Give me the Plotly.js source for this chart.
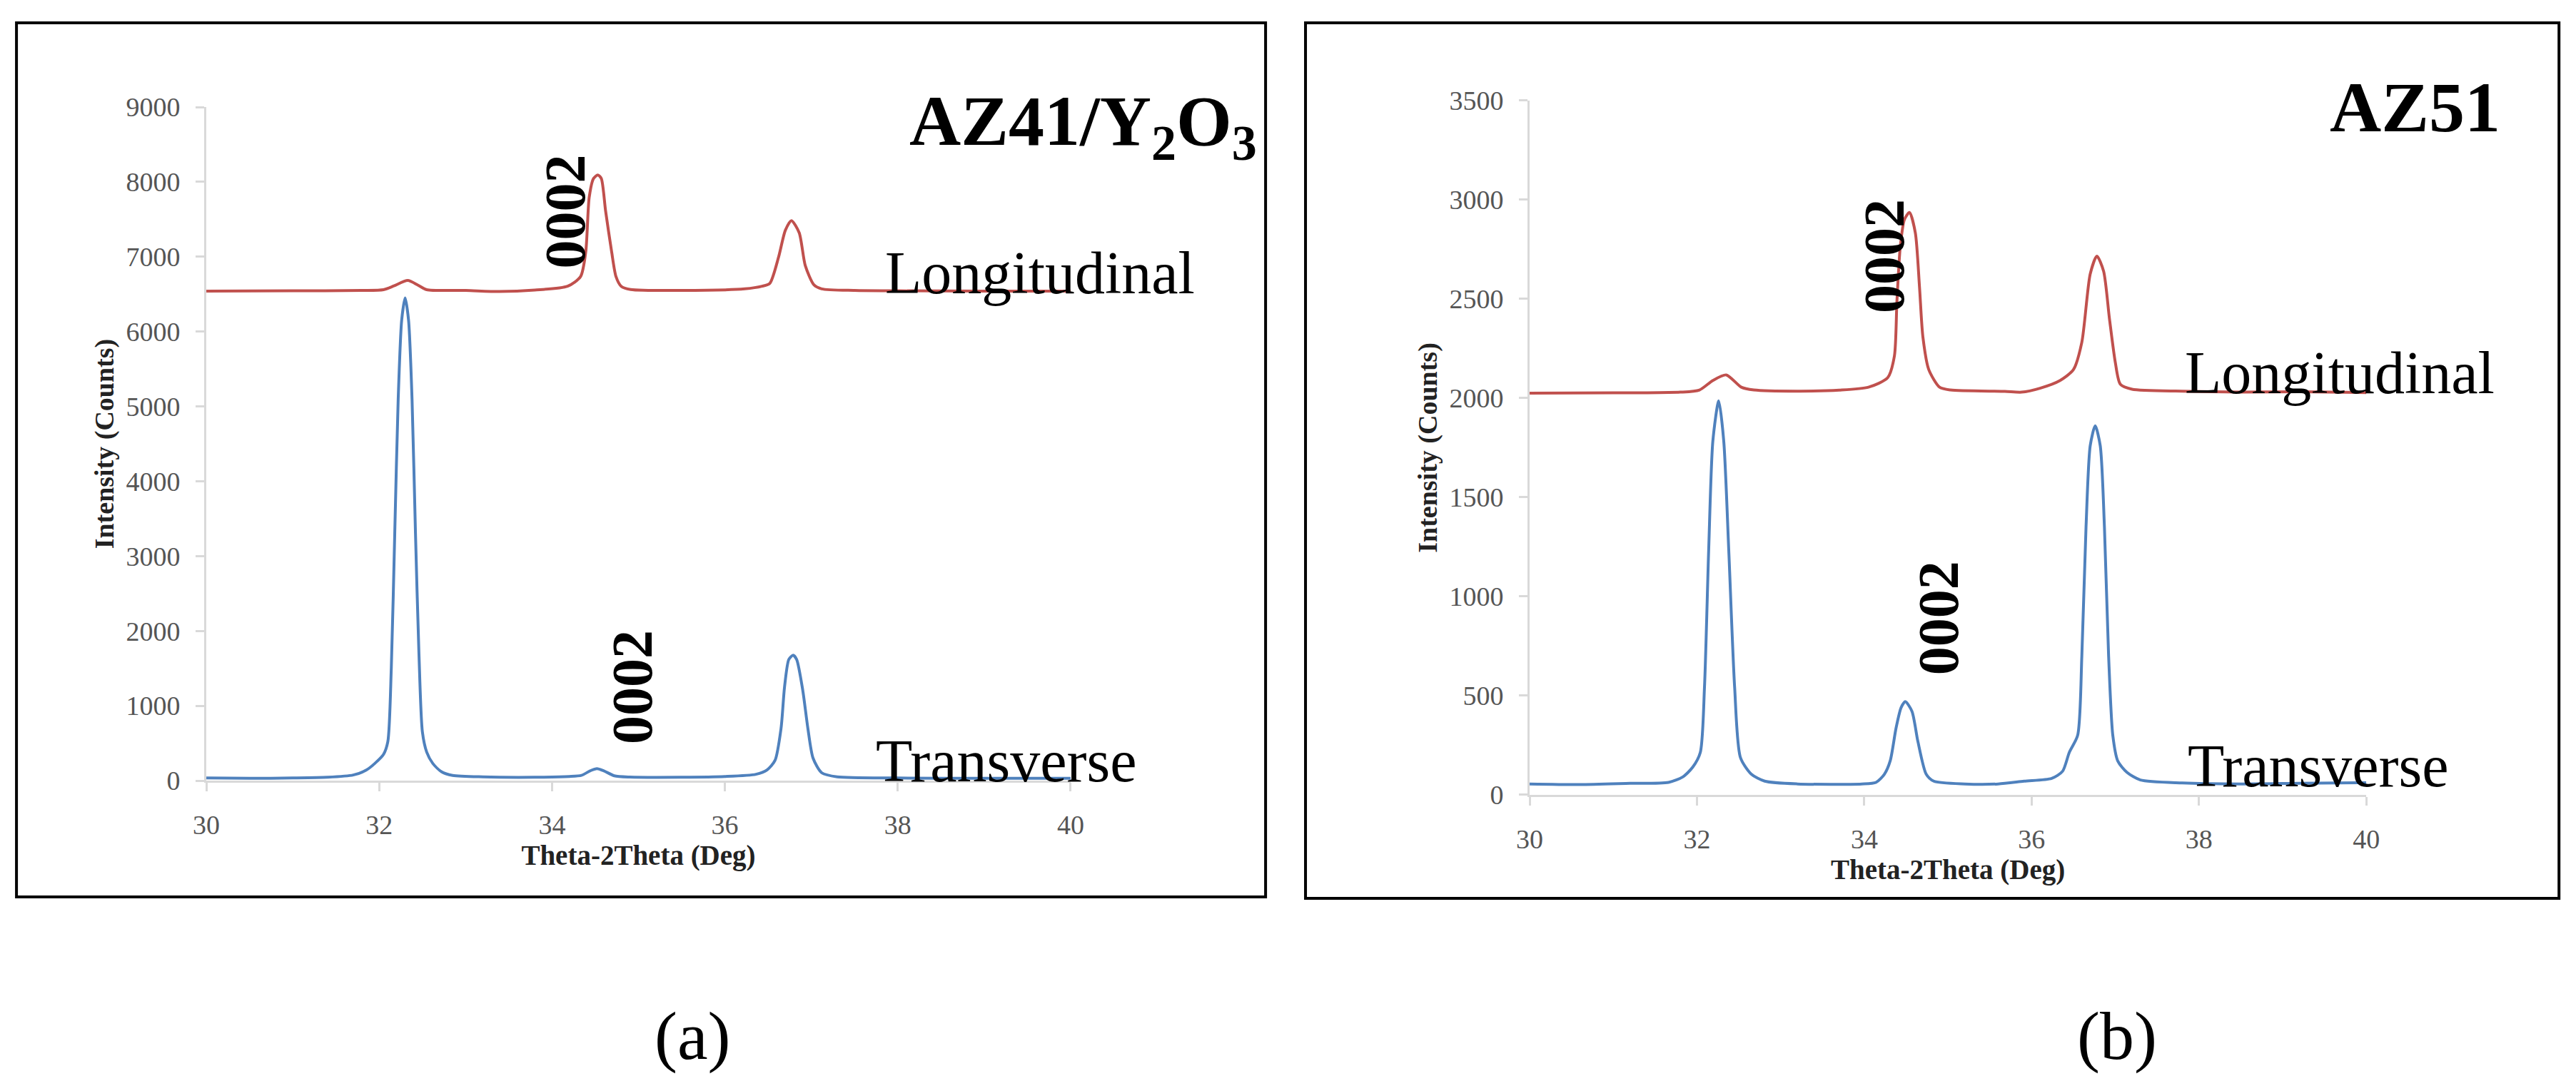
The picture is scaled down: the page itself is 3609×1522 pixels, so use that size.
<!DOCTYPE html>
<html>
<head>
<meta charset="utf-8">
<script src="https://cdn.plot.ly/plotly-3.0.1.min.js"></script>
<style>
  html, body { margin: 0; padding: 0; background: #fff; }
  #chart { width: 3609px; height: 1522px; }
</style>
</head>
<body>
<div id="chart"></div>
<script>
// (a) AZ41/Y2O3 - longitudinal scan
const aLongX = [30.0, 31.0, 31.8, 32.05, 32.17, 32.33, 32.45, 32.55, 33.0, 33.39, 33.8, 34.18, 34.33, 34.39, 34.43, 34.48, 34.53, 34.57, 34.62, 34.69, 34.74, 34.8, 34.91, 35.5, 36.23, 36.43, 36.52, 36.62, 36.7, 36.77, 36.86, 36.93, 37.03, 37.12, 37.5, 38.0, 39.0, 40.0];
const aLongY = [6540, 6545, 6550, 6560, 6610, 6683, 6620, 6560, 6550, 6535, 6555, 6606, 6735, 7064, 7793, 8046, 8093, 8046, 7610, 7064, 6735, 6606, 6563, 6550, 6571, 6606, 6645, 6990, 7355, 7483, 7321, 6883, 6625, 6571, 6550, 6545, 6540, 6540];

// (a) AZ41/Y2O3 - transverse scan
const aTransX = [30.0, 30.5, 31.0, 31.4, 31.7, 31.85, 31.95, 32.05, 32.1, 32.14, 32.18, 32.22, 32.26, 32.3, 32.34, 32.38, 32.42, 32.46, 32.5, 32.55, 32.62, 32.72, 32.85, 33.2, 33.8, 34.2, 34.34, 34.44, 34.52, 34.6, 34.72, 34.9, 35.5, 36.0, 36.36, 36.49, 36.58, 36.65, 36.69, 36.74, 36.79, 36.83, 36.9, 36.96, 37.02, 37.12, 37.3, 38.0, 39.0, 40.0];
const aTransY = [35, 30, 35, 45, 75, 140, 230, 350, 520, 1500, 3300, 5100, 6150, 6450, 6150, 5100, 3300, 1700, 650, 380, 230, 120, 70, 50, 45, 55, 70, 130, 160, 130, 65, 48, 45, 55, 85, 145, 270, 700, 1250, 1620, 1675, 1620, 1215, 700, 300, 105, 50, 35, 30, 30];

// (b) AZ51 - longitudinal scan
const bLongX = [30.0, 31.0, 31.35, 31.8, 32.03, 32.19, 32.35, 32.53, 32.68, 33.2, 33.7, 34.05, 34.28, 34.36, 34.39, 34.43, 34.48, 34.54, 34.61, 34.66, 34.7, 34.77, 34.9, 35.03, 35.68, 35.88, 36.1, 36.34, 36.5, 36.6, 36.7, 36.78, 36.86, 36.93, 37.0, 37.06, 37.2, 37.8, 38.5, 39.2, 40.0];
const bLongY = [2025, 2027, 2027, 2030, 2041, 2089, 2117, 2055, 2041, 2035, 2040, 2055, 2103, 2213, 2489, 2764, 2901, 2936, 2833, 2558, 2309, 2144, 2055, 2041, 2034, 2030, 2050, 2089, 2144, 2282, 2626, 2716, 2640, 2400, 2180, 2070, 2045, 2035, 2030, 2032, 2028];

// (b) AZ51 - transverse scan
const bTransX = [30.0, 30.6, 31.2, 31.66, 31.83, 31.95, 32.04, 32.09, 32.14, 32.19, 32.26, 32.32, 32.38, 32.45, 32.52, 32.65, 32.81, 33.2, 33.97, 34.14, 34.24, 34.31, 34.38, 34.44, 34.49, 34.57, 34.64, 34.74, 34.83, 35.2, 35.6, 35.91, 36.24, 36.37, 36.45, 36.55, 36.6, 36.65, 36.7, 36.76, 36.82, 36.87, 36.92, 36.97, 37.03, 37.14, 37.3, 37.8, 38.5, 39.2, 40.0];
const bTransY = [55, 52, 58, 63, 90, 140, 214, 544, 1234, 1784, 1986, 1784, 1234, 544, 187, 104, 69, 55, 55, 63, 104, 172, 338, 440, 470, 421, 270, 104, 69, 55, 55, 69, 83, 119, 214, 300, 700, 1350, 1760, 1860, 1760, 1350, 700, 300, 170, 113, 75, 60, 55, 58, 61];

const xTicks = [30, 32, 34, 36, 38, 40];
const aYTicks = [0, 1000, 2000, 3000, 4000, 5000, 6000, 7000, 8000, 9000];
const bYTicks = [0, 500, 1000, 1500, 2000, 2500, 3000, 3500];

const RED = '#C0504D';
const BLUE = '#4F81BD';
const SERIF = 'Liberation Serif, Times New Roman, serif';

function line(x, y, color, xa, ya, name) {
  return { x: x, y: y, xaxis: xa, yaxis: ya, name: name, type: 'scatter', mode: 'lines',
           line: { color: color, width: 4, shape: 'spline', smoothing: 0.7 },
           showlegend: false, hoverinfo: 'skip' };
}

const data = [
  line(aLongX, aLongY, RED, 'x', 'y', 'Longitudinal'),
  line(aTransX, aTransY, BLUE, 'x', 'y', 'Transverse'),
  line(bLongX, bLongY, RED, 'x2', 'y2', 'Longitudinal'),
  line(bTransX, bTransY, BLUE, 'x2', 'y2', 'Transverse')
];

function xAxis(domain, anchor) {
  return {
    domain: domain, anchor: anchor, range: [30, 40], tickvals: xTicks,
    showgrid: false, zeroline: false, showline: true, linecolor: '#D9D9D9', linewidth: 3,
    ticks: 'outside', ticklen: 12, tickwidth: 3, tickcolor: '#D9D9D9', ticklabelstandoff: 14,
    tickfont: { family: SERIF, size: 38, color: '#555555' },
    title: { text: '<b>Theta-2Theta (Deg)</b>', standoff: 10, font: { family: SERIF, size: 39, color: '#222222' } }
  };
}
function yAxis(domain, anchor, range, ticks) {
  return {
    domain: domain, anchor: anchor, range: range, tickvals: ticks,
    showgrid: false, zeroline: false, showline: true, linecolor: '#D9D9D9', linewidth: 3,
    ticks: 'outside', ticklen: 12, tickwidth: 3, tickcolor: '#D9D9D9', ticklabelstandoff: 14,
    tickfont: { family: SERIF, size: 38, color: '#555555' },
    title: { text: '<b>Intensity (Counts)</b>', standoff: 6, font: { family: SERIF, size: 38, color: '#222222' } }
  };
}

function label(text, x, y, xr, yr, size, opts) {
  return Object.assign({ text: text, x: x, y: y, xref: xr, yref: yr, showarrow: false,
    xanchor: 'center', yanchor: 'middle', font: { family: SERIF, size: size, color: '#000' } }, opts || {});
}

const annotations = [
  label('<b>0002</b>', 34.15, 7600, 'x', 'y', 80, { textangle: -90 }),
  label('<b>0002</b>', 34.93, 1249, 'x', 'y', 80, { textangle: -90 }),
  label('Longitudinal', 37.84, 6787, 'x', 'y', 84, { xanchor: 'left' }),
  label('Transverse', 37.73, 267, 'x', 'y', 84, { xanchor: 'left' }),
  label('<b>AZ41/Y<sub>2</sub>O<sub>3</sub></b>', 38.12, 8751, 'x', 'y', 100, { xanchor: 'left' }),
  label('<b>0002</b>', 34.24, 2716, 'x2', 'y2', 80, { textangle: -90 }),
  label('<b>0002</b>', 34.89, 892, 'x2', 'y2', 80, { textangle: -90 }),
  label('Longitudinal', 37.81, 2126, 'x2', 'y2', 84, { xanchor: 'left' }),
  label('Transverse', 37.85, 144, 'x2', 'y2', 84, { xanchor: 'left' }),
  label('<b>AZ51</b>', 39.55, 3464, 'x2', 'y2', 100, { xanchor: 'left' }),
  label('(a)', 0.2690, 0.0466, 'paper', 'paper', 96),
  label('(b)', 0.8218, 0.0466, 'paper', 'paper', 96)
];

// panel frames
const shapes = [
  { type: 'rect', xref: 'paper', yref: 'paper', x0: 0.0064, x1: 0.4913, y0: 0.1741, y1: 0.979,
    line: { color: '#000', width: 4 } },
  { type: 'rect', xref: 'paper', yref: 'paper', x0: 0.5068, x1: 0.9934, y0: 0.1728, y1: 0.979,
    line: { color: '#000', width: 4 } }
];

const layout = {
  width: 3609, height: 1522,
  margin: { l: 0, r: 0, t: 0, b: 0 },
  paper_bgcolor: '#ffffff', plot_bgcolor: '#ffffff',
  xaxis: xAxis([0.0801, 0.4156], 'y'),
  yaxis: yAxis([0.2812, 0.9014], 'x', [0, 9000], aYTicks),
  xaxis2: xAxis([0.5938, 0.9186], 'y2'),
  yaxis2: yAxis([0.2681, 0.9074], 'x2', [0, 3500], bYTicks),
  annotations: annotations,
  shapes: shapes
};

Plotly.newPlot('chart', data, layout, { displayModeBar: false, staticPlot: true });
</script>
</body>
</html>
